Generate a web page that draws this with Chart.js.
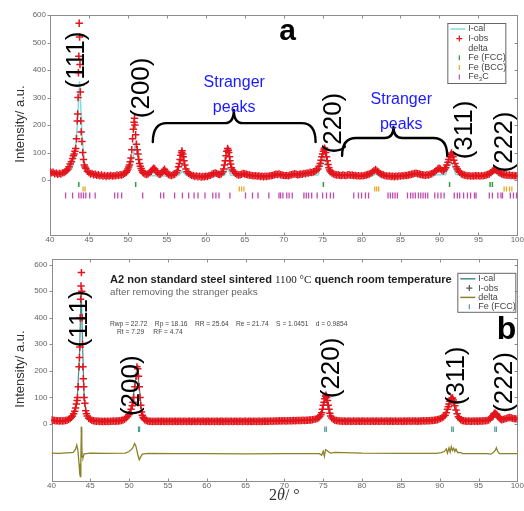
<!DOCTYPE html>
<html><head><meta charset="utf-8">
<script src="https://cdn.jsdelivr.net/npm/chart.js@4/dist/chart.umd.min.js"></script>
<style>
html,body{margin:0;padding:0;background:#fff;}
#wrap{position:relative;width:524px;height:511px;overflow:hidden;background:#fff;}
canvas{display:block;}
</style></head><body>
<div id="wrap"><canvas id="ca" width="524" height="250"></canvas><canvas id="cb" width="524" height="261"></canvas></div>
<script>
// ---------- tick labels ----------
const xTickValues = [40,45,50,55,60,65,70,75,80,85,90,95,100];
const yTickValues = [0,100,200,300,400,500,600];

// ---------- panel a : observed intensity [2theta, I] ----------
const obsA = [[40,30],[40.2,26],[40.4,28],[40.6,23],[40.8,25],[41,21],[41.2,24],[41.4,22],[41.6,26],[41.8,27],[42,31],[42.15,35],[42.3,40],[42.45,48],[42.6,58],[42.75,66],[42.9,78],[43,88],[43.1,95],[43.2,105],[43.3,115],[43.4,150],[43.5,215],[43.55,240],[43.6,300],[43.65,390],[43.7,450],[43.75,570],[43.8,520],[43.85,420],[43.9,320],[43.95,215],[44,175],[44.1,140],[44.2,100],[44.3,75],[44.4,55],[44.5,47],
[44.6,42],[44.8,32],[45,27],[45.2,22],[45.4,24],[45.6,19],[45.8,21],[46,17],[46.2,19],[46.4,15],[46.6,18],[46.8,14],[47,17],[47.2,13],[47.4,16],[47.6,14],[47.8,17],[48,14],[48.2,16],[48.4,15],[48.6,18],[48.8,16],[49,19],[49.2,18],[49.4,21],[49.6,24],[49.8,28],
[49.9,34],[50,40],[50.1,47],[50.2,55],[50.3,66],[50.4,80],[50.5,110],[50.6,150],[50.7,185],[50.8,210],[50.85,225],[50.9,200],[51,165],[51.1,130],[51.2,110],[51.3,95],[51.4,75],[51.5,60],[51.6,50],[51.7,42],[51.8,35],[51.9,29],
[52,25],[52.2,22],[52.4,20],[52.6,23],[52.8,27],[53,32],[53.15,38],[53.3,43],[53.45,40],[53.6,34],[53.8,26],[54,21],[54.2,22],[54.4,27],[54.55,34],[54.7,39],[54.85,32],[55,25],[55.2,20],[55.4,18],[55.6,16],[55.8,19],[56,21],[56.2,26],[56.35,34],[56.5,48],[56.6,60],[56.7,75],[56.8,90],[56.9,100],[56.95,106],[57.05,95],[57.1,85],[57.2,70],[57.3,55],[57.45,40],[57.6,30],[57.8,24],[58,20],[58.2,17],[58.4,16],[58.6,13],[58.8,15],[59,12],[59.2,14],[59.4,11],[59.6,13],[59.8,12],[60,14],[60.2,13],[60.4,16],[60.6,17],[60.8,21],[61,23],[61.2,26],[61.4,24],[61.6,21],[61.8,20],[62,23],[62.2,30],[62.3,40],[62.4,55],[62.5,70],[62.6,88],[62.7,105],[62.8,115],[62.9,108],[62.95,100],[63.05,85],[63.1,70],[63.2,58],[63.3,45],[63.45,36],[63.6,30],[63.8,24],[64,20],[64.2,18],[64.4,19],[64.6,21],[64.8,24],[65,22],[65.2,21],[65.4,19],[65.6,18],[65.8,17],[66,16],[66.2,15],[66.4,16],[66.6,14],[66.8,15],[67,13],[67.2,14],[67.4,12],[67.6,14],[67.8,13],[68,14],[68.2,15],[68.4,16],[68.6,17],[68.8,19],[69,21],[69.2,20],[69.4,22],[69.6,19],[69.8,18],[70,17],[70.2,16],[70.4,17],[70.6,15],[70.8,18],[71,19],[71.2,21],[71.4,23],[71.6,21],[71.8,19],[72,20],[72.2,22],[72.4,21],[72.6,24],[72.8,23],[73,26],[73.2,25],[73.4,28],[73.6,27],[73.8,30],[74,32],[74.2,35],[74.4,40],
[74.55,50],[74.7,60],[74.8,72],[74.9,85],[75,95],[75.1,105],[75.2,112],[75.25,116],[75.3,110],[75.4,100],[75.5,85],[75.6,70],[75.7,56],[75.8,45],[75.9,36],[76,30],[76.2,25],[76.4,22],[76.6,20],[76.8,18],[77,19],[77.2,17],[77.4,16],[77.6,18],[77.8,17],[78,16],[78.2,18],[78.4,19],[78.6,17],[78.8,18],[79,16],[79.2,17],[79.4,15],[79.6,16],[79.8,14],[80,16],[80.2,15],[80.4,17],[80.6,18],[80.8,20],[81,22],[81.2,25],[81.4,29],[81.6,34],[81.8,38],[82,33],[82.2,28],[82.4,23],[82.6,20],[82.8,18],[83,16],[83.2,15],[83.4,14],[83.6,15],[83.8,13],[84,14],[84.2,12],[84.4,14],[84.6,13],[84.8,15],[85,14],[85.2,16],[85.4,15],[85.6,17],[85.8,16],[86,18],[86.2,19],[86.4,21],[86.6,22],[86.8,24],[87,25],[87.2,23],[87.4,22],[87.6,20],[87.8,19],[88,18],[88.2,17],[88.4,19],[88.6,18],[88.8,21],[89,23],[89.2,26],[89.4,30],[89.6,35],[89.8,40],[89.95,43],[90.1,40],[90.3,36],[90.5,33],[90.65,38],[90.8,45],[90.95,55],[91.1,65],[91.2,75],[91.35,85],[91.45,92],[91.55,98],[91.65,92],[91.75,85],[91.85,72],[92,60],[92.15,48],[92.3,40],[92.45,33],[92.6,28],[92.8,23],[93,20],[93.2,18],[93.4,17],[93.6,15],[93.8,16],[94,14],[94.2,15],[94.4,14],[94.6,16],[94.8,15],[95,16],[95.2,14],[95.4,16],[95.6,15],[95.8,17],[96,18],[96.2,20],[96.4,22],[96.6,27],[96.8,32],[96.95,36],[97.1,38],[97.25,37],[97.4,34],[97.6,29],[97.8,25],[98,22],[98.2,20],[98.4,19],[98.6,18],[98.8,17],[99,18],[99.2,16],[99.4,17],[99.6,15],[99.8,16],[100,15]];
// panel a : calculated intensity
const calA = [[40,22],[41,19],[42,24],[42.8,40],[43.2,85],[43.5,200],[43.8,360],[44.1,175],[44.4,60],[44.8,30],[45.5,18],[47,14],[49,15],[50,22],[50.5,60],[50.95,130],[51.3,75],[51.8,28],[52.5,16],[55,15],[56.5,16],[57,32],[57.5,16],[60,13],[62.4,16],[62.8,45],[63.2,17],[66,14],[70,15],[74.4,18],[75.2,80],[75.9,20],[78,15],[81.4,15],[81.8,22],[82.2,15],[86,15],[90.8,20],[91.5,70],[92.1,20],[95,14],[96.6,16],[97.1,28],[97.6,16],[100,14]];
// panel a : reflection positions (2theta)
const fccA = [43.7,51.0,75.1,91.3,96.5,96.8];
const bccA = [44.25,44.5,64.3,64.6,64.9,81.7,81.95,82.2,98.3,98.6,99.0,99.3];
const fe3cA = [42.0,42.9,43.7,44.0,44.3,44.6,45.1,45.8,48.3,48.7,49.2,51.9,54.2,54.6,56.0,57.0,57.8,58.5,59.0,59.9,60.9,61.3,61.7,63.1,65.1,66.0,66.7,68.1,69.4,69.6,69.9,70.4,70.7,71.1,72.6,72.9,73.2,73.6,74.3,75.0,75.5,76.0,76.4,79.0,79.6,80.0,80.5,80.9,83.4,83.7,84.0,84.3,84.6,85.9,86.3,86.6,86.9,87.3,87.6,87.9,88.2,88.5,89.4,89.8,90.2,90.6,91.9,92.3,92.6,93.1,93.6,94.0,94.5,94.7,96.4,96.8,97.5,97.9,98.1,99.1,99.5,99.9];

// ---------- panel b ----------
const obsB = [[40,15],[40.2,14],[40.4,13],[40.6,12],[40.8,12],[41,11],[41.2,12],[41.4,11],[41.6,12],[41.8,13],[42,14],[42.2,17],[42.4,20],[42.55,25],[42.7,30],[42.85,38],[43,48],[43.1,60],[43.2,75],[43.3,88],[43.35,100],[43.45,140],[43.55,215],[43.6,250],[43.65,290],[43.7,400],[43.75,470],[43.8,520],[43.85,570],[43.9,500],[43.95,400],[44,300],[44.05,215],[44.1,170],[44.15,140],[44.2,100],[44.3,78],[44.4,50],[44.5,38],
[44.6,30],[44.8,21],[45,17],[45.2,14],[45.4,12],[45.6,11],[45.8,10],[46,11],[46.2,9],[46.4,10],[46.6,9],[46.8,10],[47,9],[47.2,10],[47.4,9],[47.6,10],[47.8,10],[48,11],[48.2,10],[48.4,11],[48.6,11],[48.8,12],[49,13],[49.2,15],[49.4,17],[49.6,22],[49.8,28],
[49.95,35],[50.1,42],[50.25,55],[50.4,68],[50.5,82],[50.6,100],[50.75,140],[50.9,180],[51,215],[51.1,208],[51.2,180],[51.3,140],[51.4,100],[51.5,70],[51.6,45],[51.7,33],[51.8,25],[51.9,20],
[52,16],[52.2,13],[52.4,11],[52.6,10],[52.8,10],[53,9],[53.2,10],[53.4,9],[53.6,10],[53.8,10],[54,9],[54.2,10],[54.4,10],[54.6,9],[54.8,10],[55,9],[55.2,10],[55.4,10],[55.6,9],[55.8,10],[56,10],[56.2,9],[56.4,10],[56.6,10],[56.8,9],[57,10],[57.2,10],[57.4,9],[57.6,10],[57.8,10],[58,9],[58.2,10],[58.4,10],[58.6,9],[58.8,10],[59,10],[59.2,9],[59.4,10],[59.6,10],[59.8,9],[60,10],[60.2,10],[60.4,9],[60.6,10],[60.8,10],[61,9],[61.2,10],[61.4,10],[61.6,9],[61.8,10],[62,10],[62.2,9],[62.4,10],[62.6,10],[62.8,9],[63,10],[63.2,10],[63.4,9],[63.6,10],[63.8,10],[64,9],[64.2,10],[64.4,10],[64.6,9],[64.8,10],[65,10],[65.2,9],[65.4,10],[65.6,10],[65.8,9],[66,10],[66.2,10],[66.4,9],[66.6,10],[66.8,10],[67,9],[67.2,10],[67.4,10],[67.6,10],[67.8,10],[68,10],[68.2,11],[68.4,10],[68.6,11],[68.8,11],[69,11],[69.2,11],[69.4,12],[69.6,11],[69.8,12],[70,12],[70.2,11],[70.4,12],[70.6,12],[70.8,12],[71,12],[71.2,13],[71.4,12],[71.6,13],[71.8,13],[72,13],[72.2,13],[72.4,14],[72.6,13],[72.8,14],[73,14],[73.2,15],[73.4,15],[73.6,16],[73.8,17],[74,18],[74.2,20],[74.4,23],[74.55,28],[74.7,35],[74.8,42],[74.9,55],[75,70],[75.1,82],[75.2,95],[75.3,104],[75.35,108],[75.45,100],[75.55,88],[75.65,70],[75.75,55],[75.85,40],[75.95,30],[76.1,22],[76.3,17],[76.5,14],[76.7,13],[76.9,12],[77.1,11],[77.3,11],[77.5,10],[77.7,11],[77.9,10],[78.1,10],[78.3,11],[78.5,10],[78.7,10],[78.9,11],[79.1,10],[79.3,10],[79.5,11],[79.7,10],[79.9,10],[80.1,11],[80.3,10],[80.5,10],[80.7,11],[80.9,10],[81.1,10],[81.3,11],[81.5,10],[81.7,10],[81.9,11],[82.1,10],[82.3,10],[82.5,11],[82.7,10],[82.9,10],[83.1,11],[83.3,10],[83.5,10],[83.7,11],[83.9,10],[84.1,10],[84.3,11],[84.5,10],[84.7,10],[84.9,11],[85.1,10],[85.3,10],[85.5,11],[85.7,10],[85.9,11],[86.1,11],[86.3,10],[86.5,11],[86.7,11],[86.9,11],[87.1,10],[87.3,11],[87.5,11],[87.7,11],[87.9,12],[88.1,11],[88.3,12],[88.5,12],[88.7,12],[88.9,13],[89.1,13],[89.3,14],[89.5,15],[89.7,16],[89.9,18],[90.1,20],[90.3,23],[90.5,27],[90.7,33],[90.85,42],[91,55],[91.1,65],[91.2,75],[91.3,85],[91.45,95],[91.55,97],[91.65,98],[91.75,90],[91.85,82],[91.95,68],[92.1,52],[92.25,38],[92.4,27],[92.55,21],[92.7,16],[92.9,13],[93.1,12],[93.3,11],[93.5,10],[93.7,11],[93.9,10],[94.1,10],[94.3,11],[94.5,10],[94.7,11],[94.9,10],[95.1,11],[95.3,11],[95.5,11],[95.7,12],[95.9,12],[96.1,13],[96.3,15],[96.5,19],[96.7,25],[96.85,31],[96.95,36],[97.05,39],[97.15,40],[97.3,37],[97.4,33],[97.55,27],[97.7,22],[97.85,18],[98,16],[98.2,17],[98.4,19],[98.6,21],[98.8,23],[99,24],[99.2,23],[99.4,21],[99.6,20],[99.8,19],[100,18]];
const calB = [[40,12],[42,12],[42.8,30],[43.3,90],[43.6,250],[43.82,510],[44,300],[44.2,100],[44.5,35],[45,14],[49.5,16],[50.3,60],[50.8,160],[51.05,205],[51.3,140],[51.6,48],[52,15],[74.5,16],[75,68],[75.3,100],[75.6,62],[76.1,16],[90.5,17],[91.2,70],[91.6,95],[92,55],[92.5,16],[96.6,18],[97.15,38],[97.6,17],[100,16]];
const deltaB = [[40,-110],[41,-111],[42,-109],[42.8,-107],[43.1,-95],[43.25,-80],[43.4,-100],[43.55,-150],[43.65,-190],[43.72,-198],[43.78,-140],[43.85,-12],[43.9,-70],[43.95,-125],[44.05,-128],[44.2,-113],[45,-110],[47,-111],[49.5,-110],[50,-104],[50.3,-96],[50.5,-88],[50.7,-74],[50.85,-82],[51,-100],[51.15,-120],[51.3,-135],[51.45,-126],[51.7,-114],[52.5,-111],[56,-112],[60,-112],[65,-113],[70,-112],[74.5,-112],[74.8,-118],[75,-103],[75.15,-122],[75.3,-97],[75.5,-100],[75.7,-106],[76,-110],[76.5,-107],[80,-110],[85,-111],[89.5,-111],[90.2,-108],[90.6,-104],[90.85,-94],[91,-110],[91.2,-90],[91.35,-106],[91.5,-86],[91.65,-100],[91.8,-92],[91.95,-104],[92.1,-95],[92.3,-108],[92.6,-107],[93,-112],[96,-112],[96.6,-114],[96.9,-108],[97.15,-100],[97.3,-90],[97.45,-103],[97.7,-112],[100,-112]];
const fccB = [43.85,51.2,51.35,75.2,75.4,91.55,91.75,97.1,97.3];

// ---------- annotations (data-anchored) ----------
const hklA = [{t:'(111)',x:43.43,y:436},{t:'(200)',x:51.8,y:335},{t:'(220)',x:76.5,y:207},{t:'(311)',x:93.3,y:182},{t:'(222)',x:98.35,y:138}];
const hklB = [{t:'(111)',x:43.65,y:396},{t:'(200)',x:50.4,y:144},{t:'(220)',x:76.1,y:211},{t:'(311)',x:92.2,y:181},{t:'(222)',x:98.4,y:156}];
const strangerA = [{x:63.65,y1:356,y2:265},{x:85.1,y1:291,y2:200}];
const bracesA = [{x1:53.2,x2:74.1,xm:63.6,yEnd:138,yLine:207,yTip:255},{x1:77.5,x2:91,xm:84.1,yEnd:88,yLine:153,yTip:193}];
const rowA = {fcc:-16, bcc:-33, fe3c:-56};
const rowB = {fcc:-20};
const titleParts = ['A2 non standard steel sintered ','1100 °C',' quench room temperature'];
const subtitle = 'after removing the stranger peaks';
const statsLine1 = 'Rwp = 22.72    Rp = 18.16    RR = 25.64    Re = 21.74    S = 1.0451    d = 0.9854';
const statsLine2 = 'Rt = 7.29     RF = 4.74';

const pts = arr => arr.map(p => ({x:p[0], y:p[1]}));
const row = (arr, y) => arr.map(v => ({x:v, y:y}));

function vtext(ctx, txt, x, y, font, color){
  ctx.save(); ctx.translate(x,y); ctx.rotate(-Math.PI/2);
  ctx.font=font; ctx.fillStyle=color; ctx.textAlign='center'; ctx.textBaseline='middle';
  ctx.fillText(txt,0,0); ctx.restore();
}
function frame(chart){
  const ctx=chart.ctx, a=chart.chartArea, xs=chart.scales.x, ys=chart.scales.y;
  ctx.save(); ctx.strokeStyle='#8c8c8c'; ctx.lineWidth=1;
  const L=Math.round(a.left)+0.5, T=Math.round(a.top)+0.5, R=Math.round(a.right)+0.5, B=Math.round(a.bottom)+0.5;
  ctx.strokeRect(L,T,R-L,B-T);
  ctx.beginPath();
  xTickValues.forEach(v=>{const px=Math.round(xs.getPixelForValue(v))+0.5; ctx.moveTo(px,B); ctx.lineTo(px,B-3); ctx.moveTo(px,T); ctx.lineTo(px,T+3);});
  yTickValues.forEach(v=>{const py=Math.round(ys.getPixelForValue(v))+0.5; ctx.moveTo(L,py); ctx.lineTo(L-3,py); ctx.moveTo(R,py); ctx.lineTo(R-3,py);});
  ctx.stroke(); ctx.restore();
}
function drawLegend(ctx, x, y, w, h, rowH, items){
  ctx.save();
  ctx.fillStyle='#fff'; ctx.fillRect(x,y,w,h);
  ctx.strokeStyle='#666'; ctx.lineWidth=1; ctx.strokeRect(x+0.5,y+0.5,w,h);
  ctx.font='9px Arial'; ctx.textBaseline='middle';
  items.forEach((it,i)=>{
    const cy = y + 6 + i*rowH, sx = x + 12;
    ctx.strokeStyle=it.color; ctx.lineWidth=1.2;
    ctx.beginPath();
    if(it.kind==='line'){ ctx.lineWidth=1.5; ctx.moveTo(x+3,cy); ctx.lineTo(x+18,cy); }
    else if(it.kind==='cross'){ ctx.moveTo(sx-3,cy); ctx.lineTo(sx+3,cy); ctx.moveTo(sx,cy-3); ctx.lineTo(sx,cy+3); }
    else if(it.kind==='tick'){ ctx.moveTo(sx,cy-2.5); ctx.lineTo(sx,cy+2.5); }
    ctx.stroke();
    ctx.fillStyle='#444'; ctx.textAlign='left';
    const tx = x + 21;
    if(it.sub){
      ctx.fillText(it.label[0],tx,cy);
      let w0=ctx.measureText(it.label[0]).width;
      ctx.font='6px Arial'; ctx.fillText(it.sub,tx+w0,cy+2);
      let w1=ctx.measureText(it.sub).width;
      ctx.font='9px Arial'; ctx.fillText(it.label[1],tx+w0+w1,cy);
    } else ctx.fillText(it.label,tx,cy);
  });
  ctx.restore();
}
function brace(ctx, xs, ys, b){
  const x1=xs.getPixelForValue(b.x1), x2=xs.getPixelForValue(b.x2), xm=xs.getPixelForValue(b.xm);
  const ye=ys.getPixelForValue(b.yEnd), yl=ys.getPixelForValue(b.yLine), yt=ys.getPixelForValue(b.yTip);
  const r=14, r2=9;
  ctx.save(); ctx.strokeStyle='#000'; ctx.lineWidth=2.4; ctx.lineCap='round';
  ctx.beginPath();
  ctx.moveTo(x1,ye); ctx.quadraticCurveTo(x1,yl,x1+r,yl); ctx.lineTo(xm-r2,yl); ctx.quadraticCurveTo(xm,yl,xm,yt);
  ctx.moveTo(xm,yt); ctx.quadraticCurveTo(xm,yl,xm+r2,yl); ctx.lineTo(x2-r,yl); ctx.quadraticCurveTo(x2,yl,x2,ye);
  ctx.stroke(); ctx.restore();
}
function fitSize(ctx, fontTpl, text, base, width){
  ctx.font = fontTpl.replace('#', base); const w = ctx.measureText(text).width;
  return base * width / w;
}

function scales(yMin, yMax, yW, xH){
  return {
    x:{type:'linear',min:40,max:100,
       afterBuildTicks:s=>{s.ticks=xTickValues.map(v=>({value:v}));},
       afterFit:s=>{s.height=xH;},
       ticks:{font:{size:8,family:'Arial'},color:'#666',padding:0,maxRotation:0,autoSkip:false},
       grid:{display:false,drawTicks:false},border:{display:false}},
    y:{type:'linear',min:yMin,max:yMax,
       afterBuildTicks:s=>{s.ticks=yTickValues.map(v=>({value:v}));},
       afterFit:s=>{s.width=yW;},
       ticks:{font:{size:8,family:'Arial'},color:'#666',padding:4},
       grid:{display:false,drawTicks:false},border:{display:false}}
  };
}
const baseOpts = {responsive:false,animation:false,devicePixelRatio:1,events:[],
  plugins:{legend:{display:false},tooltip:{enabled:false}}};

// ---------- Chart a ----------
new Chart(document.getElementById('ca'), {
  type:'scatter',
  data:{datasets:[
    {label:'I-cal',data:pts(calA),showLine:true,borderColor:'#80dede',borderWidth:1.5,pointRadius:0,order:5},
    {label:'I-obs',data:pts(obsA),showLine:false,pointStyle:'cross',pointRadius:3.7,borderWidth:1.5,borderColor:'#e3141b',backgroundColor:'#e3141b',order:2},
    {label:'Fe (FCC)',data:row(fccA,rowA.fcc),pointStyle:'line',rotation:90,pointRadius:2.5,borderWidth:1.5,borderColor:'#2f9e3e',order:3},
    {label:'Fe (BCC)',data:row(bccA,rowA.bcc),pointStyle:'line',rotation:90,pointRadius:2.5,borderWidth:1.3,borderColor:'#e8a828',order:3},
    {label:'Fe3C',data:row(fe3cA,rowA.fe3c),pointStyle:'line',rotation:90,pointRadius:3,borderWidth:1.3,borderColor:'#c04aae',order:3}
  ]},
  options:Object.assign({}, baseOpts, {
    layout:{padding:{top:15,right:2,left:0,bottom:0}},
    scales:scales(-200,600,50,15)
  }),
  plugins:[{id:'deco',
    beforeDatasetsDraw(chart){ frame(chart); },
    afterDatasetsDraw(chart){
      const ctx=chart.ctx, xs=chart.scales.x, ys=chart.scales.y, a=chart.chartArea;
      hklA.forEach(h=>vtext(ctx,h.t,xs.getPixelForValue(h.x),ys.getPixelForValue(h.y),'26px Arial','#000'));
      bracesA.forEach(b=>brace(ctx,xs,ys,b));
      ctx.save(); ctx.font='16px Arial'; ctx.fillStyle='#1a1aff'; ctx.textAlign='center'; ctx.textBaseline='middle';
      strangerA.forEach(s=>{const px=xs.getPixelForValue(s.x); ctx.fillText('Stranger',px,ys.getPixelForValue(s.y1)); ctx.fillText('peaks',px,ys.getPixelForValue(s.y2));});
      ctx.font='bold 30px Arial'; ctx.fillStyle='#000'; ctx.fillText('a',xs.getPixelForValue(70.5),ys.getPixelForValue(538));
      ctx.restore();
      vtext(ctx,'Intensity/ a.u.',20,124,'13px Arial','#333');
      drawLegend(ctx, a.right-70, a.top+8, 58, 60, 9.6, [
        {label:'I-cal',kind:'line',color:'#80dede'},
        {label:'I-obs',kind:'cross',color:'#e3141b'},
        {label:'delta',kind:'none',color:'#000'},
        {label:'Fe (FCC)',kind:'tick',color:'#2f9e3e'},
        {label:'Fe (BCC)',kind:'tick',color:'#e8a828'},
        {label:['Fe','C'],sub:'3',kind:'tick',color:'#c04aae'}
      ]);
    }}]
});

// ---------- Chart b ----------
new Chart(document.getElementById('cb'), {
  type:'scatter',
  data:{datasets:[
    {label:'I-cal',data:pts(calB),showLine:true,borderColor:'#3f8f8f',borderWidth:1.2,pointRadius:0,order:5},
    {label:'I-obs',data:pts(obsB),showLine:false,pointStyle:'cross',pointRadius:3.7,borderWidth:1.5,borderColor:'#e3141b',order:2},
    {label:'delta',data:pts(deltaB),showLine:true,borderColor:'#8a8226',borderWidth:1.3,pointRadius:0,order:3},
    {label:'Fe (FCC)',data:row(fccB,rowB.fcc),pointStyle:'line',rotation:90,pointRadius:2.8,borderWidth:1.2,borderColor:'#4f9c9c',order:3}
  ]},
  options:Object.assign({}, baseOpts, {
    layout:{padding:{top:5,right:3,left:0,bottom:0}},
    scales:scales(-215,622,51.5,30)
  }),
  plugins:[{id:'deco',
    beforeDatasetsDraw(chart){ frame(chart); },
    afterDatasetsDraw(chart){
      const ctx=chart.ctx, xs=chart.scales.x, ys=chart.scales.y, a=chart.chartArea;
      hklB.forEach(h=>vtext(ctx,h.t,xs.getPixelForValue(h.x),ys.getPixelForValue(h.y),'26px Arial','#000'));
      ctx.save(); ctx.fillStyle='#000'; ctx.textAlign='center'; ctx.textBaseline='middle';
      ctx.font='bold 32px Arial'; ctx.fillText('b',xs.getPixelForValue(98.6),ys.getPixelForValue(352));
      ctx.textAlign='left'; ctx.textBaseline='middle';
      const x0=a.left+58.5;
      ctx.font='bold 11px Arial'; let wA=ctx.measureText(titleParts[0]).width+ctx.measureText(titleParts[2]).width;
      ctx.font='11px "Liberation Serif"'; let wB=ctx.measureText(titleParts[1]).width;
      const k=342/(wA+wB), fs=11*k;
      let tx=x0, ty=a.top+21;
      ctx.fillStyle='#222';
      ctx.font='bold '+fs+'px Arial'; ctx.fillText(titleParts[0],tx,ty); tx+=ctx.measureText(titleParts[0]).width;
      ctx.font=fs+'px "Liberation Serif"'; ctx.fillText(titleParts[1],tx,ty); tx+=ctx.measureText(titleParts[1]).width;
      ctx.font='bold '+fs+'px Arial'; ctx.fillText(titleParts[2],tx,ty);
      ctx.fillStyle='#666'; ctx.font=fitSize(ctx,'#px Arial',subtitle,10,148)+'px Arial'; ctx.fillText(subtitle,x0,a.top+33);
      ctx.fillStyle='#444';
      const s1=fitSize(ctx,'#px Arial',statsLine1,7,238);
      ctx.font=s1+'px Arial';
      ctx.fillText(statsLine1,x0,a.top+65);
      ctx.fillText(statsLine2,x0+7,a.top+73);
      ctx.fillStyle='#333'; ctx.textBaseline='middle';
      const cx=(a.left+a.right)/2, cy=a.bottom+15;
      const p1='2', p3='/ °';
      ctx.font='italic 16px "Liberation Serif"'; const w2=ctx.measureText('θ').width;
      ctx.font='16px "Liberation Serif"'; const w1=ctx.measureText(p1).width, w3=ctx.measureText(p3).width;
      let sx=cx-(w1+w2+w3)/2;
      ctx.fillText(p1,sx,cy); sx+=w1;
      ctx.font='italic 16px "Liberation Serif"'; ctx.fillText('θ',sx,cy); sx+=w2;
      ctx.font='16px "Liberation Serif"'; ctx.fillText(p3,sx,cy);
      ctx.restore();
      vtext(ctx,'Intensity/ a.u.',20,119,'13px Arial','#333');
      drawLegend(ctx, a.right-60, a.top+14, 58, 39, 9.3, [
        {label:'I-cal',kind:'line',color:'#3f8f8f'},
        {label:'I-obs',kind:'cross',color:'#555'},
        {label:'delta',kind:'line',color:'#8a8226'},
        {label:'Fe (FCC)',kind:'tick',color:'#4f9c9c'}
      ]);
    }}]
});
</script>
</body></html>
